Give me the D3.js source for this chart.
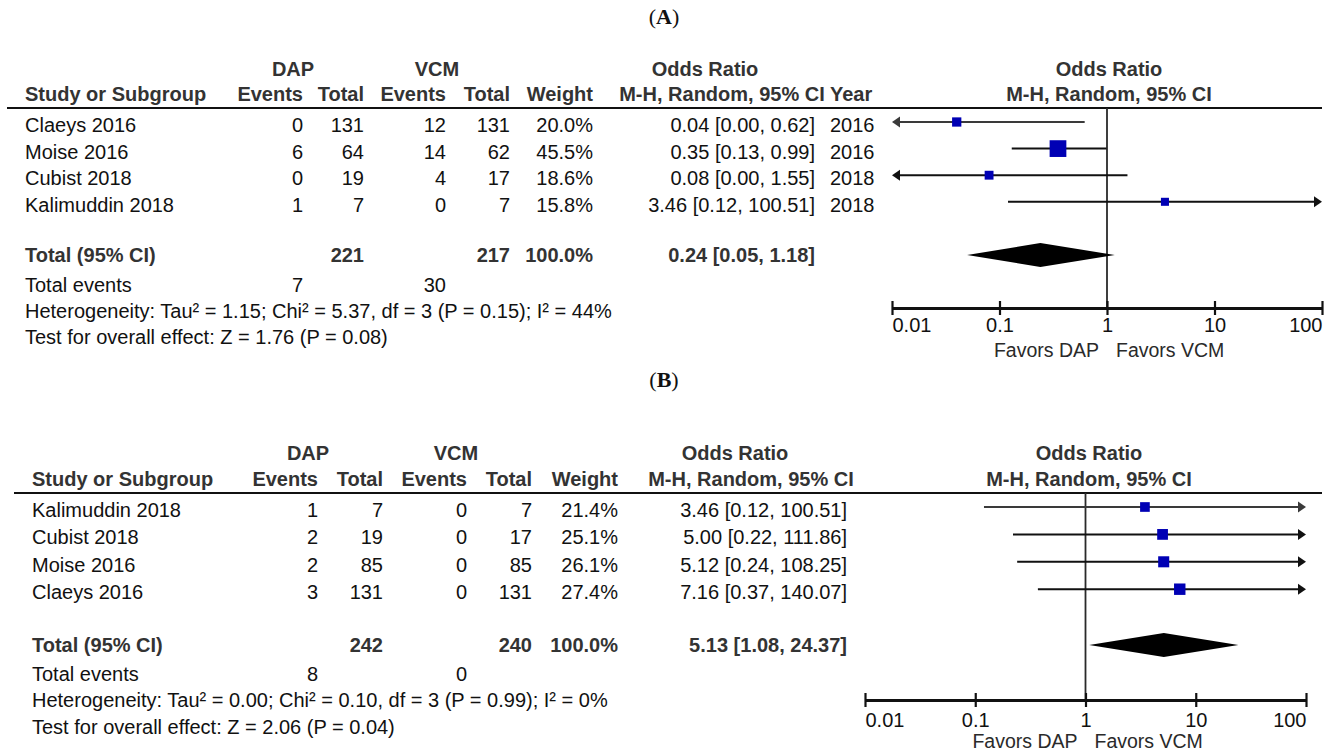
<!DOCTYPE html>
<html><head><meta charset="utf-8">
<script src="https://cdn.jsdelivr.net/npm/d3@7"></script>
<style>
body{margin:0;background:#fff}
svg{display:block}
text{font-family:"Liberation Sans",Arial,sans-serif}
</style>
</head><body>
<svg id="c" width="1328" height="751"></svg>
<script>
// ---------------- DATA ----------------
// Panel A
const studiesA   = ["Claeys 2016", "Moise 2016", "Cubist 2018", "Kalimuddin 2018"];
const dapEventsA = [0, 6, 0, 1];
const dapTotalA  = [131, 64, 19, 7];
const vcmEventsA = [12, 14, 4, 0];
const vcmTotalA  = [131, 62, 17, 7];
const weightA    = [20.0, 45.5, 18.6, 15.8];
const orA        = [0.04, 0.35, 0.08, 3.46];
const lowerA     = [0.00, 0.13, 0.00, 0.12];
const upperA     = [0.62, 0.99, 1.55, 100.51];
const yearA      = [2016, 2016, 2018, 2018];
const pooledA    = [0.24, 0.05, 1.18];          // OR, lower, upper
const totalsA    = [221, 217, 100.0];           // DAP total, VCM total, weight
const totalEventsA = [7, 30];
const hetA  = "Heterogeneity: Tau\u00B2 = 1.15; Chi\u00B2 = 5.37, df = 3 (P = 0.15); I\u00B2 = 44%";
const testA = "Test for overall effect: Z = 1.76 (P = 0.08)";

// Panel B
const studiesB   = ["Kalimuddin 2018", "Cubist 2018", "Moise 2016", "Claeys 2016"];
const dapEventsB = [1, 2, 2, 3];
const dapTotalB  = [7, 19, 85, 131];
const vcmEventsB = [0, 0, 0, 0];
const vcmTotalB  = [7, 17, 85, 131];
const weightB    = [21.4, 25.1, 26.1, 27.4];
const orB        = [3.46, 5.00, 5.12, 7.16];
const lowerB     = [0.12, 0.22, 0.24, 0.37];
const upperB     = [100.51, 111.86, 108.25, 140.07];
const pooledB    = [5.13, 1.08, 24.37];
const totalsB    = [242, 240, 100.0];
const totalEventsB = [8, 0];
const hetB  = "Heterogeneity: Tau\u00B2 = 0.00; Chi\u00B2 = 0.10, df = 3 (P = 0.99); I\u00B2 = 0%";
const testB = "Test for overall effect: Z = 2.06 (P = 0.04)";

// Axis
const axisTicks  = [0.01, 0.1, 1, 10, 100];
const tickLabels = ["0.01", "0.1", "1", "10", "100"];

// ---------------- LAYOUT ----------------
const layoutA = {
  title: "A", titleY: 24, hasYear: true,
  col: {study: 25, dapEv: 303, dapTot: 364, vcmEv: 446, vcmTot: 510, weight: 593, or: 815, year: 830},
  dapC: 293, vcmC: 437, orH1: 705, orH2: 722,
  h1: 76, h2: 101, rule: 108, ruleX: [7, 1322],
  rowY0: 122, rowStep: 26.6,
  totalY: 255, totalBase: 262, evBase: 292, hetBase: 318, testBase: 344,
  fx: [892, 1322], fHead: 1109, axisY: 308, tickBase: 332, favBase: 357
};
const layoutB = {
  title: "B", titleY: 387, hasYear: false,
  col: {study: 32, dapEv: 318, dapTot: 383, vcmEv: 467, vcmTot: 532, weight: 618, or: 847},
  dapC: 308, vcmC: 456, orH1: 735, orH2: 751,
  h1: 460, h2: 486, rule: 493, ruleX: [14, 1322],
  rowY0: 507, rowStep: 27.4,
  totalY: 645, totalBase: 652, evBase: 681, hetBase: 707, testBase: 734,
  fx: [865, 1306], fHead: 1089, axisY: 700, tickBase: 727, favBase: 748
};

const panelA = {studies: studiesA, dapEv: dapEventsA, dapTot: dapTotalA, vcmEv: vcmEventsA, vcmTot: vcmTotalA,
  weight: weightA, or: orA, lo: lowerA, hi: upperA, year: yearA, pooled: pooledA, totals: totalsA,
  totalEvents: totalEventsA, het: hetA, test: testA};
const panelB = {studies: studiesB, dapEv: dapEventsB, dapTot: dapTotalB, vcmEv: vcmEventsB, vcmTot: vcmTotalB,
  weight: weightB, or: orB, lo: lowerB, hi: upperB, year: null, pooled: pooledB, totals: totalsB,
  totalEvents: totalEventsB, het: hetB, test: testB};

const FS = 20;
const HEAD = "#333333", BODY = "#111111";
const svg = d3.select("#c");
const sizeScale = d3.scaleLinear().domain([0, 100]).range([3.4, 32.7]);
const f2 = d3.format(".2f");
const ciText = (o, l, h) => `${f2(o)} [${f2(l)}, ${f2(h)}]`;

function txt(g, x, y, s, opt = {}) {
  return g.append("text").attr("x", x).attr("y", y)
    .attr("font-size", opt.size || FS)
    .attr("font-weight", opt.bold ? "bold" : "normal")
    .attr("fill", opt.fill || (opt.bold ? HEAD : BODY))
    .attr("text-anchor", opt.anchor || "start")
    .text(s);
}

function drawPanel(p, L) {
  const g = svg.append("g");
  // title
  const t = g.append("text").attr("x", 664).attr("y", L.titleY).attr("text-anchor", "middle")
    .attr("font-size", 22).attr("fill", "#111").style("font-family", "'Liberation Serif','Times New Roman',serif");
  t.append("tspan").text("(");
  t.append("tspan").attr("font-weight", "bold").text(L.title);
  t.append("tspan").text(")");

  const c = L.col;
  // headers row 1
  txt(g, L.dapC, L.h1, "DAP", {bold: true, anchor: "middle"});
  txt(g, L.vcmC, L.h1, "VCM", {bold: true, anchor: "middle"});
  txt(g, L.orH1, L.h1, "Odds Ratio", {bold: true, anchor: "middle"});
  txt(g, L.fHead, L.h1, "Odds Ratio", {bold: true, anchor: "middle"});
  // headers row 2
  txt(g, c.study, L.h2, "Study or Subgroup", {bold: true});
  txt(g, c.dapEv, L.h2, "Events", {bold: true, anchor: "end"});
  txt(g, c.dapTot, L.h2, "Total", {bold: true, anchor: "end"});
  txt(g, c.vcmEv, L.h2, "Events", {bold: true, anchor: "end"});
  txt(g, c.vcmTot, L.h2, "Total", {bold: true, anchor: "end"});
  txt(g, c.weight, L.h2, "Weight", {bold: true, anchor: "end"});
  txt(g, L.orH2, L.h2, "M-H, Random, 95% CI", {bold: true, anchor: "middle"});
  if (L.hasYear) txt(g, c.year, L.h2, "Year", {bold: true});
  txt(g, L.fHead, L.h2, "M-H, Random, 95% CI", {bold: true, anchor: "middle"});
  // header rule
  g.append("line").attr("x1", L.ruleX[0]).attr("x2", L.ruleX[1]).attr("y1", L.rule).attr("y2", L.rule)
    .attr("stroke", "#111").attr("stroke-width", 2.2);

  const rowY = i => L.rowY0 + i * L.rowStep;

  // study rows text
  p.studies.forEach((s, i) => {
    const y = rowY(i) + 10;
    txt(g, c.study, y, s);
    txt(g, c.dapEv, y, p.dapEv[i], {anchor: "end"});
    txt(g, c.dapTot, y, p.dapTot[i], {anchor: "end"});
    txt(g, c.vcmEv, y, p.vcmEv[i], {anchor: "end"});
    txt(g, c.vcmTot, y, p.vcmTot[i], {anchor: "end"});
    txt(g, c.weight, y, p.weight[i].toFixed(1) + "%", {anchor: "end"});
    txt(g, c.or, y, ciText(p.or[i], p.lo[i], p.hi[i]), {anchor: "end"});
    if (L.hasYear && p.year) txt(g, c.year, y, p.year[i]);
  });

  // total rows
  txt(g, c.study, L.totalBase, "Total (95% CI)", {bold: true});
  txt(g, c.dapTot, L.totalBase, p.totals[0], {bold: true, anchor: "end"});
  txt(g, c.vcmTot, L.totalBase, p.totals[1], {bold: true, anchor: "end"});
  txt(g, c.weight, L.totalBase, p.totals[2].toFixed(1) + "%", {bold: true, anchor: "end"});
  txt(g, c.or, L.totalBase, ciText(p.pooled[0], p.pooled[1], p.pooled[2]), {bold: true, anchor: "end"});
  txt(g, c.study, L.evBase, "Total events");
  txt(g, c.dapEv, L.evBase, p.totalEvents[0], {anchor: "end"});
  txt(g, c.vcmEv, L.evBase, p.totalEvents[1], {anchor: "end"});
  txt(g, c.study, L.hetBase, p.het);
  txt(g, c.study, L.testBase, p.test);

  // forest plot
  const x = d3.scaleLog().domain([axisTicks[0], axisTicks[axisTicks.length - 1]]).range(L.fx);
  const [xmin, xmax] = L.fx;

  // no-effect line
  g.append("line").attr("x1", x(1)).attr("x2", x(1)).attr("y1", L.rule).attr("y2", L.axisY)
    .attr("stroke", "#2a2a2a").attr("stroke-width", 1.8);

  // CI lines with arrows
  p.studies.forEach((s, i) => {
    const y = rowY(i);
    const col = i === 0 ? "#3a3a3a" : "#111";
    const lo = p.lo[i] < axisTicks[0] ? null : p.lo[i];
    const hi = p.hi[i] > axisTicks[axisTicks.length - 1] ? null : p.hi[i];
    const x1 = lo === null ? xmin : x(lo);
    const x2 = hi === null ? xmax : x(hi);
    g.append("line").attr("x1", lo === null ? x1 + 5 : x1).attr("x2", hi === null ? x2 - 5 : x2)
      .attr("y1", y).attr("y2", y).attr("stroke", col).attr("stroke-width", 2);
    if (lo === null) {
      g.append("path").attr("d", `M${x1},${y} L${x1 + 8},${y - 5.5} L${x1 + 8},${y + 5.5} Z`).attr("fill", col);
    }
    if (hi === null) {
      g.append("path").attr("d", `M${x2},${y} L${x2 - 8},${y - 5.5} L${x2 - 8},${y + 5.5} Z`).attr("fill", col);
    }
  });

  // squares
  p.studies.forEach((s, i) => {
    const y = rowY(i), sz = sizeScale(p.weight[i]), cx = x(p.or[i]);
    g.append("rect").attr("x", cx - sz / 2).attr("y", y - sz / 2).attr("width", sz).attr("height", sz)
      .attr("fill", "#0000b4");
  });

  // diamond
  const [po, pl, ph] = p.pooled, cy = L.totalY;
  g.append("path")
    .attr("d", `M${x(pl)},${cy} L${x(po)},${cy - 12} L${x(ph)},${cy} L${x(po)},${cy + 12} Z`)
    .attr("fill", "#000");

  // axis
  const ax = g.append("g").attr("transform", `translate(0,${L.axisY})`)
    .call(d3.axisBottom(x).tickValues(axisTicks).tickFormat((d, i) => tickLabels[i]).tickSizeOuter(0).tickSizeInner(7).tickPadding(0));
  ax.select(".domain").attr("stroke", "#111").attr("stroke-width", 3);
  ax.selectAll(".tick line").attr("y1", -7).attr("y2", 7).attr("stroke", "#111").attr("stroke-width", 2.2);
  ax.selectAll(".tick text").attr("y", null).attr("dy", null)
    .attr("font-size", 20).attr("fill", BODY).style("font-family", "'Liberation Sans',Arial,sans-serif")
    .attr("transform", `translate(0,${L.tickBase - L.axisY})`)
    .attr("text-anchor", (d, i) => i === 0 ? "start" : (i === axisTicks.length - 1 ? "end" : "middle"));

  // favours labels
  txt(g, x(1) - 8, L.favBase, "Favors DAP", {anchor: "end", fill: "#2a2a2a", size: 19.5});
  txt(g, x(1) + 9, L.favBase, "Favors VCM", {fill: "#2a2a2a", size: 19.5});
}

drawPanel(panelA, layoutA);
drawPanel(panelB, layoutB);
</script>
</body></html>
